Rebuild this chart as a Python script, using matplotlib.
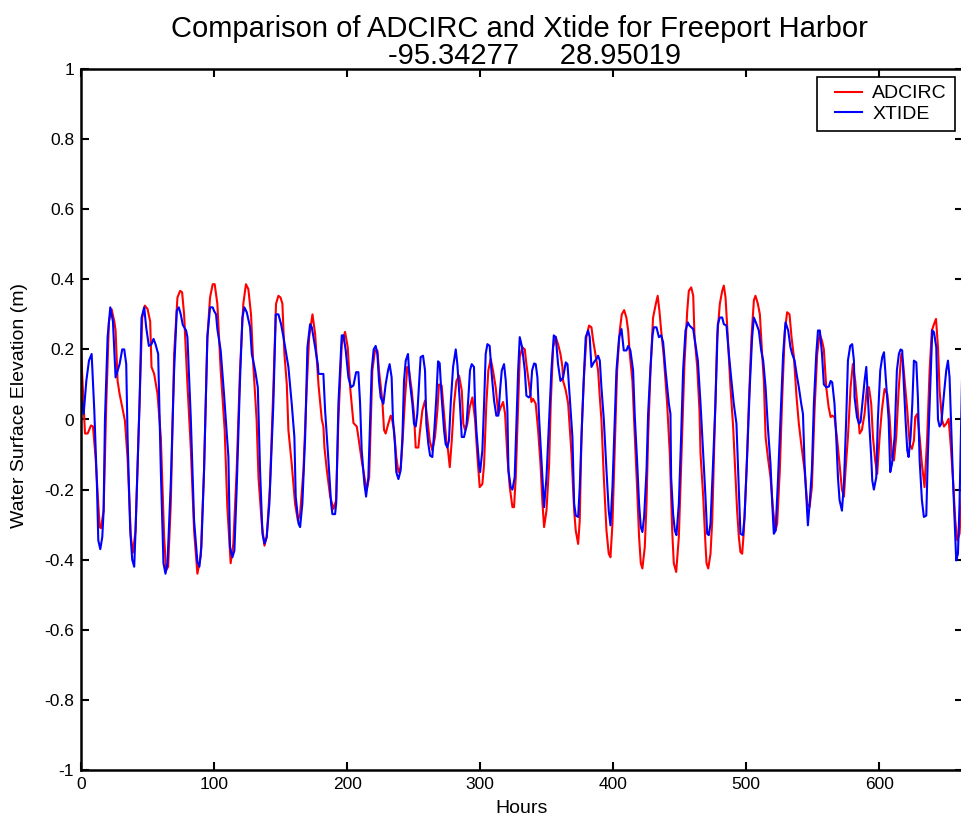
import matplotlib
matplotlib.use("Agg")
import matplotlib.pyplot as plt
from matplotlib.legend_handler import HandlerLine2D

# ADCIRC model output (hours, water level in m)
adcirc_hours = [
    0, 3, 5, 7.5, 9, 11, 14, 15, 17, 19, 21, 23, 25, 26, 27.5, 29, 31, 33, 35, 37.5,
    39, 41, 44, 46, 48, 50, 52, 53, 55, 57.5, 60, 62.5, 64, 65.5, 67.5, 70, 72.5, 74.5, 76, 77.5,
    80, 82.5, 85, 87.5, 90, 92.5, 95, 97, 99, 100.5, 102.5, 105, 108, 110, 112.5, 114.5, 117, 119.5, 122, 124,
    125.8, 127.8, 129.6, 132, 133.4, 135.9, 137.9, 139.6, 142, 144.6, 146.6, 148.4, 150, 151.4, 152.9, 154.7, 155.9, 158.4, 160.9, 163,
    164.7, 167.2, 169.7, 171.5, 174, 176, 178.5, 181, 182.2, 183, 184.8, 187.3, 189.8, 191.8, 193.5, 196, 198.5, 200.5, 202.3, 204.8,
    207.3, 208.5, 211, 213.5, 214.8, 216.6, 219, 221, 222.8, 224, 226.5, 227.8, 229, 231, 232.8, 233.5, 235.3, 237, 238.6, 240.3,
    241.6, 243.6, 245.3, 246.6, 248.6, 250.3, 251.6, 253.6, 254.6, 256.6, 258.6, 260.4, 262.1, 264.1, 266.1, 267.9, 269.1, 271.1, 272.9, 274.6,
    275.9, 277.2, 278.7, 280.4, 282.2, 284.2, 286.2, 287.4, 288.7, 290.4, 292.2, 294.2, 296.2, 298, 299.7, 301.7, 303, 304.7, 306.2, 308,
    309.7, 311.7, 313.7, 315.5, 317.3, 318.8, 320.5, 322.3, 324.3, 325.5, 326.8, 328.6, 329.8, 331.8, 333.6, 334.8, 336.8, 338.6, 339.8, 341.8,
    343.6, 345.4, 346.9, 348.1, 349.9, 351.9, 353.1, 354.9, 356.9, 358.6, 360.4, 361.9, 362.4, 364.4, 366.2, 368.7, 370.7, 371.9, 373.7, 374.9,
    376.2, 377.9, 379.9, 381.9, 383.7, 385, 387, 388.7, 390, 391.2, 393, 395, 396.7, 398, 399.5, 401.2, 403, 405, 406.5, 408.3,
    410, 411.3, 412.5, 414.5, 416.3, 418, 419.5, 420.8, 422, 423.8, 425.1, 426.3, 428.1, 430, 432.1, 433.5, 434.8, 436.1, 438.1, 440.6,
    442.6, 444.4, 445.6, 447.4, 449.4, 451.4, 453.6, 455.7, 456.9, 458.7, 460.2, 461.2, 463.2, 464.9, 465.7, 467.7, 469.4, 470.2, 471.5, 473.2,
    474.5, 476.2, 478.2, 480.2, 482, 483.2, 484.5, 486.2, 488.2, 490.2, 492, 493.2, 494.5, 495.7, 497, 498.3, 500.3, 502, 504, 505.8,
    507, 508.8, 510.3, 512, 513.3, 514.6, 516.3, 518.3, 520.3, 522.1, 523.3, 525.3, 527.1, 529.1, 530.8, 532.6, 534.1, 535.9, 537.9, 539.6,
    541.4, 543.9, 545.9, 547.7, 549.4, 551.4, 553.4, 555.2, 557, 558.4, 560.2, 562, 563.5, 564.7, 566.4, 568.2, 570.2, 572, 573.5, 574.7,
    576.5, 578.5, 580.2, 582, 583.5, 585.3, 587, 589, 590.8, 592.3, 594, 595.3, 597, 598.5, 600.3, 602, 604, 606.1, 607.8, 609.6,
    611.1, 612.8, 614.6, 616.6, 617.8, 619.6, 621.1, 622.9, 624.6, 626.1, 627.1, 628.6, 630.4, 632.1, 634.1, 636.1, 637.9, 639.6, 641.2, 642.7,
    644.2, 645.4, 647.2, 648.7, 650.4, 652.2, 653.7, 655.4, 657.2, 658.7, 660.4, 662.4,
]
adcirc_level = [
    0.197, -0.04, -0.04, -0.017, -0.02, -0.11, -0.307, -0.31, -0.26, 0.045, 0.28, 0.315, 0.28, 0.254, 0.11, 0.073, 0.035, -0.003, -0.11, -0.335,
    -0.38, -0.317, 0.045, 0.29, 0.325, 0.315, 0.28, 0.15, 0.13, 0.073, -0.05, -0.335, -0.43, -0.42, -0.24, 0.187, 0.348, 0.367, 0.363, 0.3,
    0.1, -0.08, -0.317, -0.44, -0.39, -0.145, 0.235, 0.348, 0.386, 0.386, 0.33, 0.14, -0.03, -0.25, -0.41, -0.355, -0.145, 0.14, 0.33, 0.386,
    0.372, 0.3, 0.15, 0.0, -0.165, -0.297, -0.36, -0.335, -0.193, 0.092, 0.33, 0.353, 0.348, 0.33, 0.187, 0.1, -0.03, -0.127, -0.24, -0.288,
    -0.27, -0.145, 0.092, 0.235, 0.3, 0.244, 0.1, 0.0, -0.02, -0.08, -0.145, -0.22, -0.255, -0.23, 0.0, 0.215, 0.25, 0.206, 0.092, -0.01,
    -0.02, -0.05, -0.117, -0.174, -0.2, -0.165, 0.14, 0.197, 0.197, 0.14, 0.054, -0.03, -0.04, -0.012, 0.011, 0.007, -0.03, -0.107, -0.15, -0.136,
    -0.07, 0.063, 0.15, 0.14, 0.083, 0.016, -0.08, -0.08, -0.04, 0.026, 0.054, 0.0, -0.06, -0.088, -0.05, 0.026, 0.1, 0.097, 0.016, -0.06,
    -0.088, -0.136, -0.06, 0.045, 0.11, 0.125, 0.083, -0.012, -0.03, -0.012, 0.035, 0.063, 0.0, -0.107, -0.193, -0.184, -0.127, 0.045, 0.14, 0.173,
    0.14, 0.092, 0.016, 0.035, 0.05, 0.016, -0.107, -0.193, -0.25, -0.25, -0.165, 0.045, 0.178, 0.206, 0.2, 0.158, 0.1, 0.05, 0.059, 0.045,
    -0.03, -0.127, -0.24, -0.307, -0.26, -0.127, 0.045, 0.206, 0.235, 0.215, 0.187, 0.15, 0.11, 0.083, 0.045, -0.098, -0.26, -0.317, -0.355, -0.288,
    -0.05, 0.11, 0.235, 0.268, 0.263, 0.225, 0.178, 0.14, 0.063, 0.0, -0.165, -0.317, -0.383, -0.393, -0.297, -0.08, 0.14, 0.254, 0.3, 0.312,
    0.29, 0.254, 0.187, 0.11, -0.05, -0.193, -0.335, -0.41, -0.425, -0.364, -0.24, -0.05, 0.14, 0.29, 0.33, 0.353, 0.31, 0.254, 0.178, 0.045,
    -0.098, -0.317, -0.41, -0.435, -0.335, -0.098, 0.158, 0.31, 0.367, 0.377, 0.353, 0.235, 0.15, 0.026, -0.098, -0.22, -0.355, -0.41, -0.425, -0.383,
    -0.288, -0.05, 0.235, 0.33, 0.367, 0.382, 0.348, 0.235, 0.092, -0.02, -0.165, -0.26, -0.335, -0.378, -0.383, -0.317, -0.145, 0.045, 0.235, 0.34,
    0.353, 0.33, 0.3, 0.187, 0.11, -0.05, -0.107, -0.165, -0.26, -0.317, -0.297, -0.145, 0.063, 0.254, 0.306, 0.3, 0.235, 0.178, 0.063, -0.012,
    -0.07, -0.145, -0.24, -0.25, -0.193, 0.026, 0.187, 0.244, 0.225, 0.2, 0.092, 0.035, 0.007, 0.011, 0.007, -0.05, -0.127, -0.2, -0.22, -0.145,
    -0.05, 0.092, 0.158, 0.11, 0.045, -0.04, -0.03, 0.016, 0.092, 0.092, 0.045, -0.05, -0.117, -0.155, -0.05, 0.026, 0.087, 0.073, 0.007, -0.107,
    -0.117, -0.05, 0.083, 0.187, 0.168, 0.092, 0.026, -0.07, -0.084, -0.06, 0.007, 0.016, -0.05, -0.127, -0.193, -0.05, 0.14, 0.254, 0.272, 0.287,
    0.206, 0.083, 0.0, -0.02, -0.012, 0.002, -0.07, -0.165, -0.288, -0.345, -0.326, -0.193,
]

# XTIDE prediction (hours, water level in m)
xtide_hours = [
    0, 2, 4, 6, 8, 10, 12, 13, 14.5, 16, 17, 18, 20, 22, 24, 26, 29, 31, 32.5, 34,
    35, 37, 38.5, 40, 41, 44, 45.5, 47.5, 49, 51, 53, 54.5, 56, 58, 60, 62, 63.5, 65, 67.5, 70,
    72, 73.5, 75, 76.5, 79, 80, 82.5, 85, 87.5, 89, 90.5, 92.5, 95, 97, 99, 100, 101.5, 102.5, 105, 107.5,
    110.8, 112, 113.8, 115.3, 117, 119.6, 121.3, 122.8, 124.6, 127.1, 128.4, 130.9, 132.9, 134.6, 136.4, 137.9, 139.6, 141.6, 144.6, 146.4,
    148.4, 150.4, 152.2, 154.7, 155.9, 158.4, 160.4, 161.4, 163.5, 164.7, 166.4, 168.5, 170.2, 172.2, 173.5, 176, 178, 178.5, 182.2, 183.5,
    186, 188, 189, 191, 191.8, 193.5, 196, 197.3, 199, 201, 203, 204.8, 206.8, 208.5, 209.8, 211, 213, 214.3, 216, 218.5,
    220, 221.5, 222.8, 224, 225.3, 227.3, 229, 230.8, 232, 233.5, 234.5, 236, 237, 238.6, 240.3, 241.6, 242.8, 244.1, 245.8, 247.1,
    249.1, 250.3, 251.6, 252.8, 254.1, 255.3, 257.1, 258.6, 259.6, 261.1, 262.4, 264.1, 265.6, 267.1, 268.4, 269.6, 271.1, 272.9, 274.1, 275.4,
    276.6, 277.9, 279.7, 281.7, 282.9, 284.7, 286.2, 287.9, 289.7, 291.2, 292.4, 293.7, 295.4, 296.2, 297.2, 299.2, 300, 301.7, 303, 304.2,
    305.5, 307.2, 308.7, 310.5, 312.2, 313.7, 315, 316.3, 318, 319.3, 320.5, 321.3, 323, 324.3, 326, 328.6, 329.8, 331.6, 333.6, 334.8,
    336.6, 337.8, 339.1, 340.6, 341.8, 343.1, 344.4, 346.1, 348.1, 349.9, 351.9, 353.6, 355.4, 356.9, 358.6, 360.4, 362.4, 364.4, 365.7, 367.4,
    369.4, 370.7, 371.9, 373.7, 374.9, 376.7, 378.2, 379.4, 381.2, 382.4, 383.7, 385.5, 387.5, 388.7, 390, 391.2, 393, 395, 396.7, 398,
    399.5, 401.2, 402.5, 404.5, 406.3, 408, 410, 411.3, 413, 415, 416.3, 418, 419.5, 420.8, 422, 423.3, 425.1, 426.3, 428.1, 429.6,
    430.6, 432.6, 434.4, 436.1, 437.6, 439.4, 441.9, 443.1, 443.6, 445.1, 446.4, 447.6, 449.4, 451.1, 452.6, 454.4, 456.2, 457.4, 460.2, 461.9,
    463.7, 465.7, 467.7, 469.4, 470.7, 471.9, 473.2, 474.9, 476.9, 478.7, 480.2, 482, 483.2, 485.2, 487, 488.7, 490.7, 492.7, 494, 495.7,
    497.5, 498.8, 500.8, 502.8, 504.5, 505.8, 507.8, 509.5, 511.3, 512.8, 514.6, 516.3, 518.3, 519.6, 520.8, 522.1, 523.8, 525.8, 527.8, 529.6,
    531.6, 533.3, 534.6, 536.4, 537.9, 539.6, 541.4, 542.7, 543.9, 545.2, 546.4, 547.7, 549.4, 550.9, 552.7, 554, 555.4, 557, 558.4, 560.2,
    562.2, 563.5, 564.7, 566.4, 567.7, 569, 570.2, 572, 573.5, 575.2, 576.5, 578.2, 579.7, 581, 581.5, 583.3, 584.8, 586, 587.8, 589,
    590.3, 591, 592.8, 594, 594.8, 596, 597.8, 599, 600.8, 602.3, 603.6, 605.3, 607.1, 608.3, 609.6, 611.6, 613.3, 614.8, 616.1, 617.3,
    618.6, 619.8, 621.1, 622.1, 623.6, 624.9, 626.1, 627.9, 629.1, 630.4, 632.1, 633.6, 635.4, 636.6, 638.4, 639.9, 641.2, 642.9, 644.2, 645.4,
    646.7, 648.7, 650.4, 651.7, 652.9, 654.2, 655.4, 656.7, 657.9, 659.2, 660.4, 662.4,
]
xtide_level = [
    0.073, 0.016, 0.11, 0.168, 0.187, 0.025, -0.19, -0.345, -0.37, -0.335, -0.26, 0.0, 0.235, 0.32, 0.28, 0.12, 0.158, 0.2, 0.2, 0.158,
    -0.05, -0.317, -0.4, -0.42, -0.317, 0.045, 0.29, 0.32, 0.263, 0.21, 0.215, 0.23, 0.215, 0.187, -0.145, -0.41, -0.44, -0.41, -0.18, 0.14,
    0.31, 0.32, 0.3, 0.27, 0.254, 0.235, 0.007, -0.288, -0.407, -0.42, -0.364, -0.145, 0.235, 0.32, 0.32, 0.31, 0.3, 0.258, 0.197, 0.073,
    -0.107, -0.364, -0.393, -0.374, -0.2, 0.12, 0.29, 0.32, 0.306, 0.263, 0.187, 0.14, 0.092, -0.145, -0.326, -0.354, -0.335, -0.24, 0.045, 0.3,
    0.3, 0.272, 0.235, 0.178, 0.15, 0.045, -0.05, -0.22, -0.297, -0.307, -0.24, -0.05, 0.206, 0.272, 0.263, 0.206, 0.158, 0.13, 0.13, 0.025,
    -0.117, -0.24, -0.27, -0.27, -0.24, 0.045, 0.24, 0.24, 0.197, 0.12, 0.092, 0.097, 0.135, 0.135, 0.045, -0.088, -0.183, -0.22, -0.165, 0.14,
    0.2, 0.21, 0.187, 0.11, 0.063, 0.045, 0.1, 0.14, 0.158, 0.12, 0.0, -0.07, -0.15, -0.17, -0.145, -0.05, 0.11, 0.168, 0.187, 0.11,
    0.045, -0.012, -0.02, 0.016, 0.1, 0.178, 0.182, 0.14, -0.012, -0.07, -0.103, -0.107, -0.03, 0.063, 0.166, 0.161, 0.063, -0.03, -0.07, -0.08,
    -0.06, 0.045, 0.15, 0.2, 0.158, 0.054, -0.05, -0.05, -0.02, 0.063, 0.14, 0.158, 0.15, 0.045, -0.03, -0.127, -0.15, -0.088, 0.045, 0.187,
    0.215, 0.21, 0.13, 0.054, 0.011, 0.011, 0.083, 0.14, 0.158, 0.11, 0.026, -0.145, -0.193, -0.2, -0.165, 0.14, 0.235, 0.206, 0.14, 0.068,
    0.063, 0.068, 0.14, 0.16, 0.158, 0.12, 0.0, -0.117, -0.25, -0.165, 0.0, 0.14, 0.24, 0.235, 0.158, 0.11, 0.12, 0.163, 0.158, 0.063,
    -0.05, -0.24, -0.274, -0.278, -0.193, 0.0, 0.14, 0.235, 0.254, 0.235, 0.15, 0.163, 0.173, 0.182, 0.168, 0.092, 0.0, -0.145, -0.26, -0.302,
    -0.193, 0.0, 0.14, 0.235, 0.258, 0.197, 0.197, 0.21, 0.197, 0.14, 0.007, -0.117, -0.24, -0.307, -0.321, -0.278, -0.145, 0.016, 0.15, 0.24,
    0.263, 0.263, 0.235, 0.24, 0.22, 0.14, 0.045, 0.016, -0.165, -0.27, -0.317, -0.33, -0.24, -0.05, 0.14, 0.254, 0.277, 0.268, 0.258, 0.215,
    0.168, 0.045, -0.098, -0.22, -0.326, -0.33, -0.297, -0.145, 0.045, 0.272, 0.291, 0.291, 0.272, 0.268, 0.187, 0.12, 0.045, -0.012, -0.145, -0.326,
    -0.33, -0.278, -0.098, 0.1, 0.235, 0.291, 0.272, 0.254, 0.197, 0.168, 0.092, -0.02, -0.127, -0.24, -0.326, -0.317, -0.183, 0.0, 0.187, 0.277,
    0.254, 0.206, 0.187, 0.168, 0.13, 0.092, 0.045, 0.016, -0.127, -0.22, -0.302, -0.24, -0.145, 0.045, 0.187, 0.254, 0.254, 0.187, 0.1, 0.092,
    0.094, 0.11, 0.106, 0.045, -0.05, -0.165, -0.23, -0.26, -0.183, 0.0, 0.168, 0.21, 0.215, 0.168, 0.063, 0.007, -0.012, -0.007, 0.063, 0.11,
    0.15, 0.1, -0.03, -0.107, -0.174, -0.2, -0.165, 0.0, 0.14, 0.178, 0.192, 0.1, 0.0, -0.15, -0.127, -0.05, 0.14, 0.187, 0.2, 0.197,
    0.092, 0.0, -0.088, -0.107, -0.05, 0.045, 0.168, 0.163, 0.063, -0.117, -0.23, -0.278, -0.274, -0.098, 0.092, 0.254, 0.249, 0.206, 0.0, -0.02,
    -0.012, 0.073, 0.14, 0.168, 0.12, -0.03, -0.165, -0.288, -0.402, -0.383, -0.24, 0.14,
]

x_ticks = [0, 100, 200, 300, 400, 500, 600]
y_ticks = [-1, -0.8, -0.6, -0.4, -0.2, 0, 0.2, 0.4, 0.6, 0.8, 1]
y_tick_labels = ["-1", "-0.8", "-0.6", "-0.4", "-0.2", "0", "0.2", "0.4", "0.6", "0.8", "1"]

plt.rcParams["font.family"] = ["Liberation Sans", "DejaVu Sans"]
plt.rcParams["axes.unicode_minus"] = False

W, H = 962, 821
fig = plt.figure(figsize=(W / 100, H / 100), dpi=100)
ax = fig.add_axes([81 / W, 1 - 770 / H, 882 / W, 701 / H])

ax.plot(adcirc_hours, adcirc_level, color="red", lw=1.5, label="ADCIRC")
ax.plot(xtide_hours, xtide_level, color="blue", lw=1.5, label="XTIDE")

ax.set_xlim(0, 663)
ax.set_ylim(-1, 1)
ax.set_xticks(x_ticks)
ax.set_yticks(y_ticks)
ax.set_yticklabels(y_tick_labels)
ax.tick_params(direction="in", length=6, width=1.5, top=True, right=True,
               labelsize=12.5, pad=5)
for sp in ax.spines.values():
    sp.set_linewidth(1.8)

fig.text(519 / W, 1 - 37 / H, "Comparison of ADCIRC and Xtide for Freeport Harbor",
         ha="center", va="baseline", fontsize=21)
fig.text(535 / W, 1 - 64 / H, "-95.34277     28.95019",
         ha="center", va="baseline", fontsize=21)
fig.text(522 / W, 1 - 808 / H, "Hours", ha="center", va="center", fontsize=14)
fig.text(19.5 / W, 1 - 405 / H, "Water Surface Elevation (m)", rotation=90,
         ha="center", va="center", fontsize=14)

# legend handles start a bit in from the frame, like the MATLAB legend
leg = ax.legend(loc="upper left", bbox_to_anchor=(817 / W, 1 - 77 / H),
                bbox_transform=fig.transFigure, borderaxespad=0, fancybox=False,
                edgecolor="black", framealpha=1, fontsize=14, handlelength=1.92,
                handletextpad=0.52, labelspacing=0.15, borderpad=0.4,
                handler_map={plt.Line2D: HandlerLine2D(xpad=0.53)})
leg.get_frame().set_linewidth(1.2)

fig.savefig("out.png", dpi=100)
